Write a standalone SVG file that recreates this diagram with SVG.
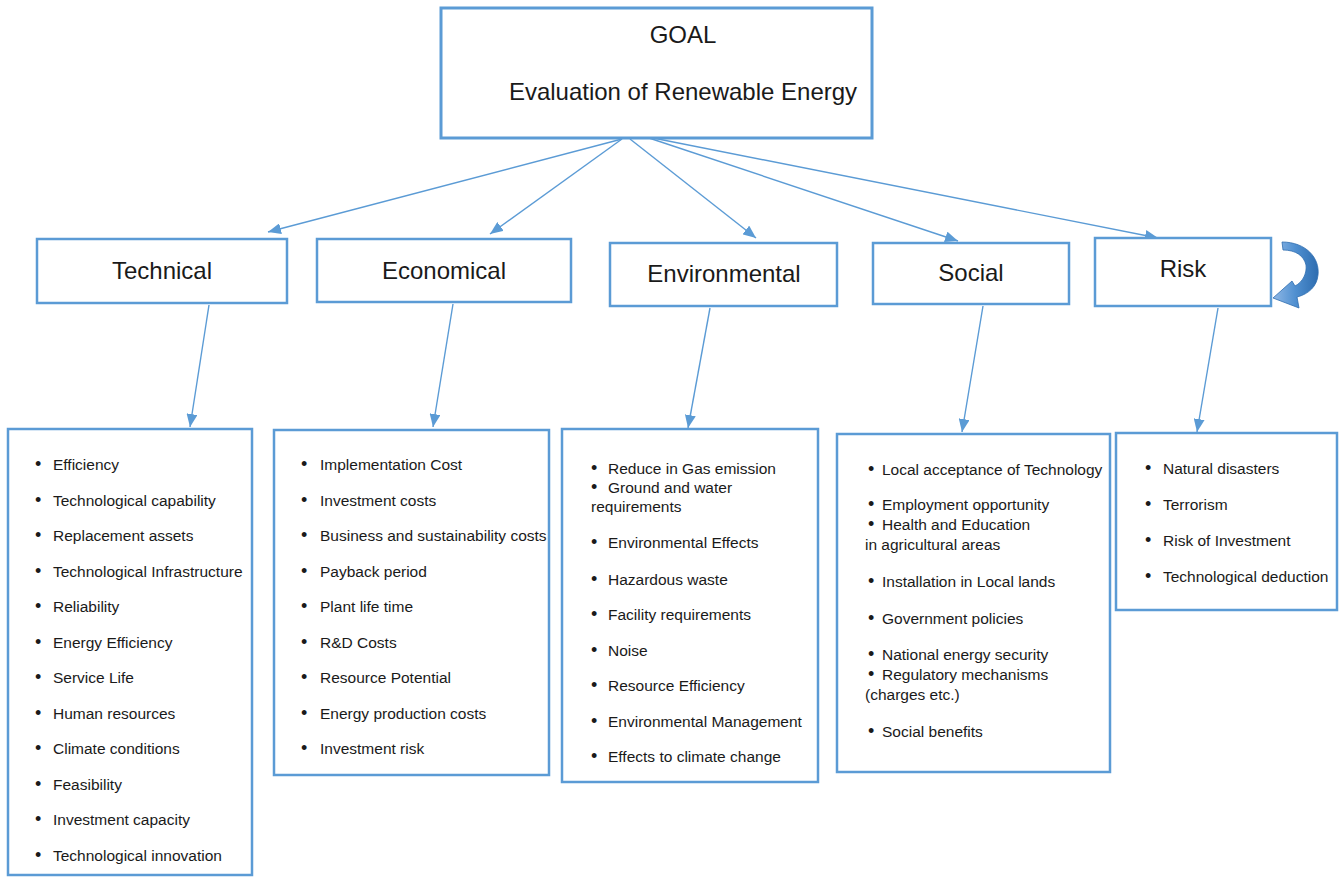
<svg xmlns="http://www.w3.org/2000/svg" width="1343" height="877" viewBox="0 0 1343 877">
<style>
.box{fill:#fff;stroke:#5b9bd5;stroke-width:2.5}
.goal{fill:#fff;stroke:#5b9bd5;stroke-width:3}
.conn{stroke:#5b9bd5;stroke-width:1.4;fill:none}
.t{font-family:"Liberation Sans",Arial,sans-serif;fill:#1a1a1a}
.cat{font-size:24px;text-anchor:middle}
.li{font-size:15.5px}
.b{font-size:18px}
</style>
<defs>
<marker id="ah" markerUnits="userSpaceOnUse" markerWidth="13" markerHeight="11" refX="13" refY="5.5" orient="auto">
<path d="M0,0 L13,5.5 L0,11 z" fill="#5b9bd5"/>
</marker>
<linearGradient id="cg" x1="0" y1="0" x2="1" y2="0">
<stop offset="0" stop-color="#8fb8e6"/>
<stop offset="0.5" stop-color="#4f8fd0"/>
<stop offset="1" stop-color="#2e6db0"/>
</linearGradient>
</defs>
<rect width="1343" height="877" fill="#fff"/>
<g id="connectors">
<line class="conn" x1="622" y1="139" x2="268" y2="232" marker-end="url(#ah)"/>
<line class="conn" x1="622" y1="139" x2="490" y2="234" marker-end="url(#ah)"/>
<line class="conn" x1="630" y1="139" x2="756" y2="238" marker-end="url(#ah)"/>
<line class="conn" x1="643" y1="136" x2="958" y2="241" marker-end="url(#ah)"/>
<line class="conn" x1="643" y1="136" x2="1158" y2="238" marker-end="url(#ah)"/>
<line class="conn" x1="209" y1="305" x2="190" y2="427" marker-end="url(#ah)"/>
<line class="conn" x1="453" y1="304" x2="433" y2="427" marker-end="url(#ah)"/>
<line class="conn" x1="710" y1="308" x2="688" y2="428" marker-end="url(#ah)"/>
<line class="conn" x1="983" y1="306" x2="962" y2="432" marker-end="url(#ah)"/>
<line class="conn" x1="1218" y1="308" x2="1197" y2="432" marker-end="url(#ah)"/>
<path id="loop" d="M1282,242 C1306,242 1320,258 1318,275 C1317,286 1309,294 1297,297 L1299,308 L1273,298 L1292,281 L1295,286 C1303,282 1307,273 1306,265 C1304,256 1296,250 1283,250 Z" fill="url(#cg)" stroke="#2e6db0" stroke-width="0.8"/>
</g>
<g id="goal">
<rect class="goal" x="441" y="8" width="431" height="130"/>
<text class="t cat" x="683" y="43">GOAL</text>
<text class="t cat" x="683" y="100">Evaluation of Renewable Energy</text>
</g>
<g id="technical">
<rect class="box" x="37" y="239" width="250" height="64"/>
<text class="t cat" x="162" y="279">Technical</text>
</g>
<g id="economical">
<rect class="box" x="317" y="239" width="254" height="63"/>
<text class="t cat" x="444" y="279">Economical</text>
</g>
<g id="environmental">
<rect class="box" x="610" y="243" width="227" height="63"/>
<text class="t cat" x="724" y="282">Environmental</text>
</g>
<g id="social">
<rect class="box" x="873" y="243" width="196" height="61"/>
<text class="t cat" x="971" y="281">Social</text>
</g>
<g id="risk">
<rect class="box" x="1095" y="238" width="176" height="68"/>
<text class="t cat" x="1183" y="277">Risk</text>
</g>
<g id="technical-list">
<rect class="box" x="8" y="429" width="244" height="446"/>
<g class="t li">
<text y="470"><tspan class="b" x="35">•</tspan><tspan x="53">Efficiency</tspan></text>
<text y="505.5"><tspan class="b" x="35">•</tspan><tspan x="53">Technological capability</tspan></text>
<text y="541"><tspan class="b" x="35">•</tspan><tspan x="53">Replacement assets</tspan></text>
<text y="576.5"><tspan class="b" x="35">•</tspan><tspan x="53">Technological Infrastructure</tspan></text>
<text y="612"><tspan class="b" x="35">•</tspan><tspan x="53">Reliability</tspan></text>
<text y="647.5"><tspan class="b" x="35">•</tspan><tspan x="53">Energy Efficiency</tspan></text>
<text y="683"><tspan class="b" x="35">•</tspan><tspan x="53">Service Life</tspan></text>
<text y="718.5"><tspan class="b" x="35">•</tspan><tspan x="53">Human resources</tspan></text>
<text y="754"><tspan class="b" x="35">•</tspan><tspan x="53">Climate conditions</tspan></text>
<text y="789.5"><tspan class="b" x="35">•</tspan><tspan x="53">Feasibility</tspan></text>
<text y="825"><tspan class="b" x="35">•</tspan><tspan x="53">Investment capacity</tspan></text>
<text y="860.5"><tspan class="b" x="35">•</tspan><tspan x="53">Technological innovation</tspan></text>
</g>
</g>
<g id="economical-list">
<rect class="box" x="274" y="430" width="275" height="345"/>
<g class="t li">
<text y="470"><tspan class="b" x="301">•</tspan><tspan x="320">Implementation Cost</tspan></text>
<text y="505.5"><tspan class="b" x="301">•</tspan><tspan x="320">Investment costs</tspan></text>
<text y="541"><tspan class="b" x="301">•</tspan><tspan x="320">Business and sustainability costs</tspan></text>
<text y="576.5"><tspan class="b" x="301">•</tspan><tspan x="320">Payback period</tspan></text>
<text y="612"><tspan class="b" x="301">•</tspan><tspan x="320">Plant life time</tspan></text>
<text y="647.5"><tspan class="b" x="301">•</tspan><tspan x="320">R&amp;D Costs</tspan></text>
<text y="683"><tspan class="b" x="301">•</tspan><tspan x="320">Resource Potential</tspan></text>
<text y="718.5"><tspan class="b" x="301">•</tspan><tspan x="320">Energy production costs</tspan></text>
<text y="754"><tspan class="b" x="301">•</tspan><tspan x="320">Investment risk</tspan></text>
</g>
</g>
<g id="environmental-list">
<rect class="box" x="562" y="429" width="256" height="353"/>
<g class="t li">
<text y="474"><tspan class="b" x="591">•</tspan><tspan x="608">Reduce in Gas emission</tspan></text>
<text y="493"><tspan class="b" x="591">•</tspan><tspan x="608">Ground and water</tspan></text>
<text x="591" y="512">requirements</text>
<text y="548"><tspan class="b" x="591">•</tspan><tspan x="608">Environmental Effects</tspan></text>
<text y="585"><tspan class="b" x="591">•</tspan><tspan x="608">Hazardous waste</tspan></text>
<text y="620"><tspan class="b" x="591">•</tspan><tspan x="608">Facility requirements</tspan></text>
<text y="656"><tspan class="b" x="591">•</tspan><tspan x="608">Noise</tspan></text>
<text y="691"><tspan class="b" x="591">•</tspan><tspan x="608">Resource Efficiency</tspan></text>
<text y="727"><tspan class="b" x="591">•</tspan><tspan x="608">Environmental Management</tspan></text>
<text y="762"><tspan class="b" x="591">•</tspan><tspan x="608">Effects to climate change</tspan></text>
</g>
</g>
<g id="social-list">
<rect class="box" x="837" y="434" width="273" height="338"/>
<g class="t li">
<text y="475"><tspan class="b" x="868">•</tspan><tspan x="882">Local acceptance of Technology</tspan></text>
<text y="510"><tspan class="b" x="868">•</tspan><tspan x="882">Employment opportunity</tspan></text>
<text y="530"><tspan class="b" x="868">•</tspan><tspan x="882">Health and Education</tspan></text>
<text x="865" y="550">in agricultural areas</text>
<text y="587"><tspan class="b" x="868">•</tspan><tspan x="882">Installation in Local lands</tspan></text>
<text y="624"><tspan class="b" x="868">•</tspan><tspan x="882">Government policies</tspan></text>
<text y="660"><tspan class="b" x="868">•</tspan><tspan x="882">National energy security</tspan></text>
<text y="680"><tspan class="b" x="868">•</tspan><tspan x="882">Regulatory mechanisms</tspan></text>
<text x="865" y="700">(charges etc.)</text>
<text y="737"><tspan class="b" x="868">•</tspan><tspan x="882">Social benefits</tspan></text>
</g>
</g>
<g id="risk-list">
<rect class="box" x="1116" y="433" width="221" height="177"/>
<g class="t li">
<text y="474"><tspan class="b" x="1145">•</tspan><tspan x="1163">Natural disasters</tspan></text>
<text y="510"><tspan class="b" x="1145">•</tspan><tspan x="1163">Terrorism</tspan></text>
<text y="546"><tspan class="b" x="1145">•</tspan><tspan x="1163">Risk of Investment</tspan></text>
<text y="582"><tspan class="b" x="1145">•</tspan><tspan x="1163">Technological deduction</tspan></text>
</g>
</g>
</svg>
